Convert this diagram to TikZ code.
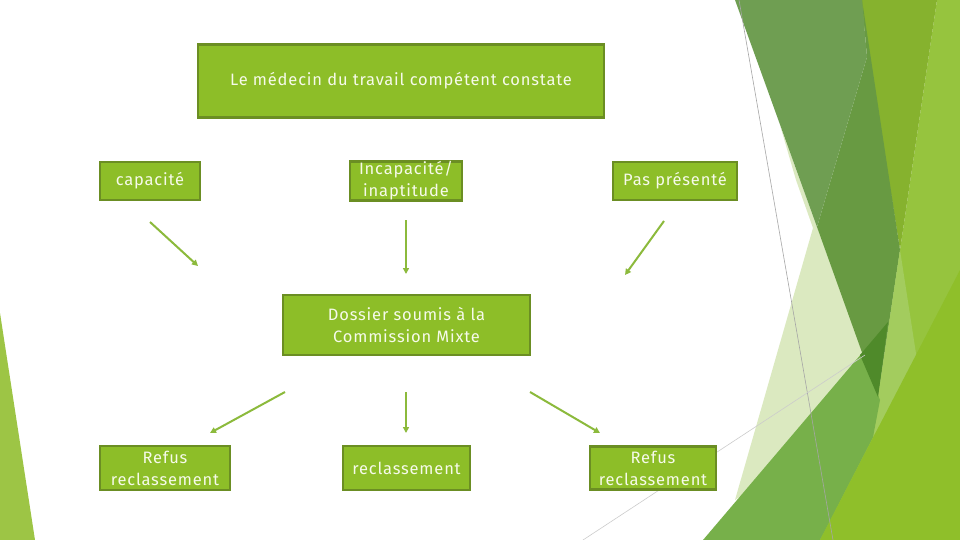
\documentclass[tikz,border=0pt]{standalone}
\usepackage{fontspec}
\setmainfont[LetterSpace=5]{Fira Sans}
\usetikzlibrary{arrows.meta}
\definecolor{boxfill}{HTML}{8DBE28}
\definecolor{boxline}{HTML}{6B8E23}
\definecolor{boxtext}{HTML}{F6FAEA}
\definecolor{arrowc}{HTML}{8CBA3C}
\definecolor{leftg}{HTML}{9DC545}
\definecolor{baselight}{HTML}{96C43E}
\definecolor{olive}{HTML}{86B22E}
\definecolor{bandd}{HTML}{689A42}
\definecolor{bandl}{HTML}{6F9E52}
\definecolor{pale}{HTML}{DBE9C0}
\definecolor{medg}{HTML}{77B04A}
\definecolor{darkg}{HTML}{4F8A2A}
\definecolor{patch}{HTML}{A3CC5E}
\definecolor{bright}{HTML}{8FBF2A}
\begin{document}
\begin{tikzpicture}[x=1pt,y=-1pt,
  gbox/.style={draw=boxline, line width=2.5pt, fill=boxfill, text=boxtext,
    inner sep=0pt, align=center, font=\fontsize{16.5}{22}\selectfont},
  arr/.style={draw=arrowc, line width=2pt, -{Triangle[length=6pt,width=6pt]}},
  thinline/.style={draw=#1, line width=0.6pt}]
\useasboundingbox (0,0) rectangle (960,540);
\fill[white] (0,0) rectangle (960,540);
% background facets
\fill[leftg] (0,313) -- (35,540) -- (0,540) -- cycle;
\fill[baselight] (937,0) -- (960,0) -- (960,540) -- (820,540) -- (878,397) -- (900,250) -- cycle;
\fill[olive] (860,0) -- (937,0) -- (900,250) -- cycle;
\fill[pale] (780,125) -- (880,400) -- (735,500) -- (813,228) -- (796,180) -- cycle;
\fill[bandd] (862,0) -- (900,250) -- (878,397) -- (817,227) -- (867,57) -- cycle;
\fill[bandl] (735,0) -- (862,0) -- (867,57) -- (817,227) -- cycle;
\fill[patch] (900,250) -- (917,360) -- (873,437) -- (878,397) -- cycle;
\fill[medg] (703,540) -- (862,353) -- (880,400) -- (873,437) -- (820,540) -- cycle;
\fill[darkg] (860,355) -- (888,322) -- (878,397) -- cycle;
\fill[bright] (960,270) -- (960,540) -- (820,540) -- cycle;
\draw[thinline=gray!70] (739,0) -- (833,540);
\draw[thinline=gray!40] (583,540) -- (865,355);
% boxes
\node[gbox, minimum width=406pt, minimum height=73pt] (top) at (401,81) {Le médecin du travail compétent constate};
\node[gbox, minimum width=100pt, minimum height=38pt] (cap) at (150,181) {capacité};
\node[gbox, minimum width=112pt, minimum height=38pt] (incap) at (406,181) {Incapacité/\\inaptitude};
\node[gbox, minimum width=124pt, minimum height=38pt] (pas) at (675,181) {Pas présenté};
\node[gbox, minimum width=247pt, minimum height=60pt] (dossier) at (406.5,325) {Dossier soumis à la\\Commission Mixte};
\node[gbox, minimum width=130pt, minimum height=44pt] (refusL) at (165,468) {Refus\\reclassement};
\node[gbox, minimum width=127pt, minimum height=44pt] (reclass) at (406.5,468) {reclassement};
\node[gbox, minimum width=126pt, minimum height=43pt] (refusR) at (653,468) {Refus\\reclassement};
% arrows
\coordinate (a1s) at (150,222); \coordinate (a1e) at (198,266);
\coordinate (a2s) at (406,220); \coordinate (a2e) at (406,274);
\coordinate (a3s) at (664,221); \coordinate (a3e) at (625,275);
\coordinate (a4s) at (285,392); \coordinate (a4e) at (210,433);
\coordinate (a5s) at (406,392); \coordinate (a5e) at (406,433);
\coordinate (a6s) at (530,392); \coordinate (a6e) at (600,433);
\draw[arr] (a1s) -- (a1e);
\draw[arr] (a2s) -- (a2e);
\draw[arr] (a3s) -- (a3e);
\draw[arr] (a4s) -- (a4e);
\draw[arr] (a5s) -- (a5e);
\draw[arr] (a6s) -- (a6e);
\end{tikzpicture}
\end{document}
